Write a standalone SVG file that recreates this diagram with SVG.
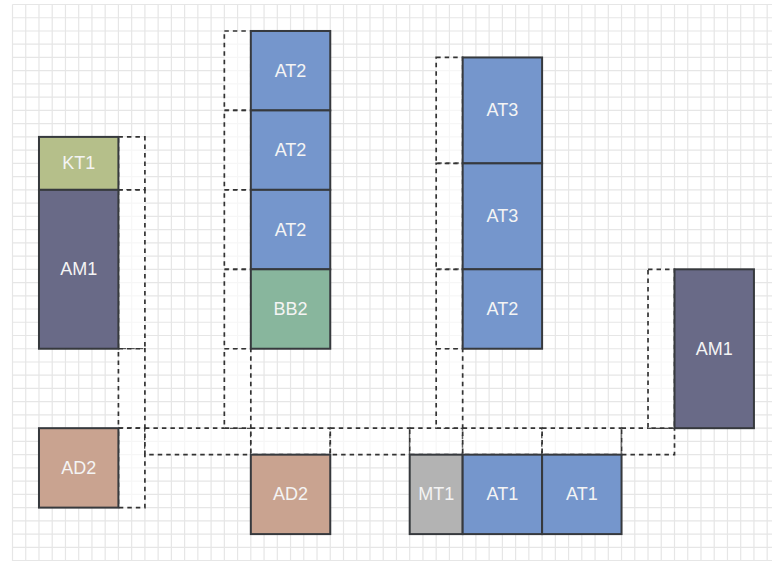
<svg xmlns="http://www.w3.org/2000/svg" width="772" height="561" viewBox="0 0 772 561">
<style>
.grid{fill:none;stroke:#e6e6e6;stroke-width:1.2;vector-effect:non-scaling-stroke}
.zone{fill:#ffffff;fill-opacity:0.65;stroke:#333333;stroke-width:1.7;stroke-dasharray:4.5 4}
.box{stroke:#36393d;stroke-width:2}
.lbl{font-family:"Liberation Sans",Arial,Helvetica,sans-serif;font-size:18px;fill:#f4f4f4;text-anchor:middle;dominant-baseline:central}
.at{fill:#7596cc}.am{fill:#696a87}.ad{fill:#c9a390}.kt{fill:#b5bf8a}.bb{fill:#88b69d}.mt{fill:#b3b3b3}
</style>
<rect x="0" y="0" width="772" height="561" fill="#ffffff"/>
<g id="grid" transform="translate(12.5 4.5) scale(13.24)">
<path class="grid" d="M0 0V43M1 0V43M2 0V43M3 0V43M4 0V43M5 0V43M6 0V43M7 0V43M8 0V43M9 0V43M10 0V43M11 0V43M12 0V43M13 0V43M14 0V43M15 0V43M16 0V43M17 0V43M18 0V43M19 0V43M20 0V43M21 0V43M22 0V43M23 0V43M24 0V43M25 0V43M26 0V43M27 0V43M28 0V43M29 0V43M30 0V43M31 0V43M32 0V43M33 0V43M34 0V43M35 0V43M36 0V43M37 0V43M38 0V43M39 0V43M40 0V43M41 0V43M42 0V43M43 0V43M44 0V43M45 0V43M46 0V43M47 0V43M48 0V43M49 0V43M50 0V43M51 0V43M52 0V43M53 0V43M54 0V43M55 0V43M56 0V43M57 0V43
M0 0H58M0 1H58M0 2H58M0 3H58M0 4H58M0 5H58M0 6H58M0 7H58M0 8H58M0 9H58M0 10H58M0 11H58M0 12H58M0 13H58M0 14H58M0 15H58M0 16H58M0 17H58M0 18H58M0 19H58M0 20H58M0 21H58M0 22H58M0 23H58M0 24H58M0 25H58M0 26H58M0 27H58M0 28H58M0 29H58M0 30H58M0 31H58M0 32H58M0 33H58M0 34H58M0 35H58M0 36H58M0 37H58M0 38H58M0 39H58M0 40H58M0 41H58M0 42H58"/>
</g>
<g id="zones">
<rect class="zone" x="118.42" y="136.9" width="26.48" height="52.96"/>
<rect class="zone" x="118.42" y="189.86" width="26.48" height="158.88"/>
<rect class="zone" x="118.42" y="348.74" width="26.48" height="79.44"/>
<rect class="zone" x="118.42" y="428.18" width="26.48" height="79.44"/>
<rect class="zone" x="144.9" y="428.18" width="105.92" height="26.48"/>
<rect class="zone" x="250.82" y="428.18" width="79.44" height="26.48"/>
<rect class="zone" x="330.26" y="428.18" width="79.44" height="26.48"/>
<rect class="zone" x="409.7" y="428.18" width="52.96" height="26.48"/>
<rect class="zone" x="462.66" y="428.18" width="79.44" height="26.48"/>
<rect class="zone" x="542.1" y="428.18" width="79.44" height="26.48"/>
<rect class="zone" x="621.54" y="428.18" width="52.96" height="26.48"/>
<rect class="zone" x="224.34" y="30.98" width="26.48" height="79.44"/>
<rect class="zone" x="224.34" y="110.42" width="26.48" height="79.44"/>
<rect class="zone" x="224.34" y="189.86" width="26.48" height="79.44"/>
<rect class="zone" x="224.34" y="269.3" width="26.48" height="79.44"/>
<rect class="zone" x="224.34" y="348.74" width="26.48" height="79.44"/>
<rect class="zone" x="436.18" y="57.46" width="26.48" height="105.92"/>
<rect class="zone" x="436.18" y="163.38" width="26.48" height="105.92"/>
<rect class="zone" x="436.18" y="269.3" width="26.48" height="79.44"/>
<rect class="zone" x="436.18" y="348.74" width="26.48" height="79.44"/>
<rect class="zone" x="648.02" y="269.3" width="26.48" height="158.88"/>
</g>
<g id="connectors"/>
<g id="kt1"><rect class="box kt" x="38.98" y="136.9" width="79.44" height="52.96"/><text class="lbl" x="78.7" y="163.38">KT1</text></g>
<g id="am1-left"><rect class="box am" x="38.98" y="189.86" width="79.44" height="158.88"/><text class="lbl" x="78.7" y="269.3">AM1</text></g>
<g id="ad2-left"><rect class="box ad" x="38.98" y="428.18" width="79.44" height="79.44"/><text class="lbl" x="78.7" y="467.9">AD2</text></g>
<g id="at2-a"><rect class="box at" x="250.82" y="30.98" width="79.44" height="79.44"/><text class="lbl" x="290.54" y="70.7">AT2</text></g>
<g id="at2-b"><rect class="box at" x="250.82" y="110.42" width="79.44" height="79.44"/><text class="lbl" x="290.54" y="150.14">AT2</text></g>
<g id="at2-c"><rect class="box at" x="250.82" y="189.86" width="79.44" height="79.44"/><text class="lbl" x="290.54" y="229.58">AT2</text></g>
<g id="bb2"><rect class="box bb" x="250.82" y="269.3" width="79.44" height="79.44"/><text class="lbl" x="290.54" y="309.02">BB2</text></g>
<g id="ad2-mid"><rect class="box ad" x="250.82" y="454.66" width="79.44" height="79.44"/><text class="lbl" x="290.54" y="494.38">AD2</text></g>
<g id="at3-a"><rect class="box at" x="462.66" y="57.46" width="79.44" height="105.92"/><text class="lbl" x="502.38" y="110.42">AT3</text></g>
<g id="at3-b"><rect class="box at" x="462.66" y="163.38" width="79.44" height="105.92"/><text class="lbl" x="502.38" y="216.34">AT3</text></g>
<g id="at2-d"><rect class="box at" x="462.66" y="269.3" width="79.44" height="79.44"/><text class="lbl" x="502.38" y="309.02">AT2</text></g>
<g id="am1-right"><rect class="box am" x="674.5" y="269.3" width="79.44" height="158.88"/><text class="lbl" x="714.22" y="348.74">AM1</text></g>
<g id="mt1"><rect class="box mt" x="409.7" y="454.66" width="52.96" height="79.44"/><text class="lbl" x="436.18" y="494.38">MT1</text></g>
<g id="at1-a"><rect class="box at" x="462.66" y="454.66" width="79.44" height="79.44"/><text class="lbl" x="502.38" y="494.38">AT1</text></g>
<g id="at1-b"><rect class="box at" x="542.1" y="454.66" width="79.44" height="79.44"/><text class="lbl" x="581.82" y="494.38">AT1</text></g>
</svg>
